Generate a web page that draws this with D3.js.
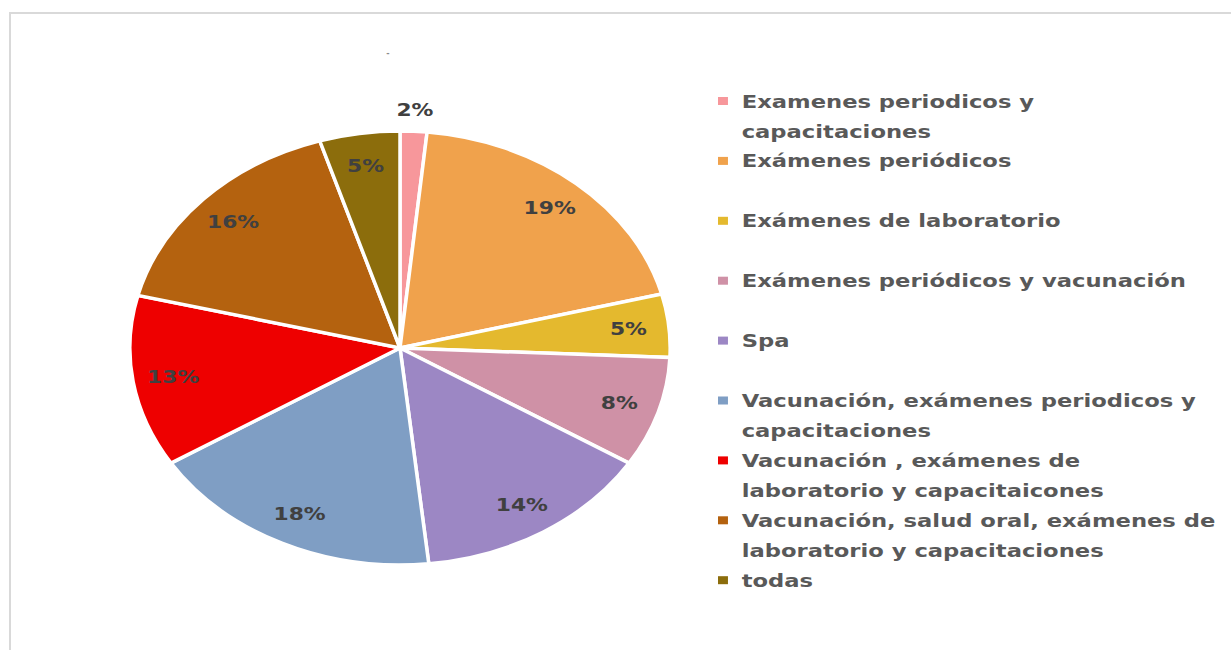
<!DOCTYPE html>
<html>
<head>
<meta charset="utf-8">
<script src="https://cdn.jsdelivr.net/npm/d3@7"></script>
<style>
  body { margin: 0; background: #fff; }
  text { font-family: "DejaVu Sans", Verdana, sans-serif; font-weight: bold; }
</style>
</head>
<body>
<div id="chart"></div>
<script>
// slice shares (labels are the rounded shares)
const categories = [
  "Examenes periodicos y capacitaciones",
  "Exámenes periódicos",
  "Exámenes de laboratorio",
  "Exámenes periódicos y vacunación",
  "Spa",
  "Vacunación, exámenes periodicos y capacitaciones",
  "Vacunación , exámenes de laboratorio y capacitaicones",
  "Vacunación, salud oral, exámenes de laboratorio y capacitaciones",
  "todas"
];
const legendLines = [
  ["Examenes periodicos y", "capacitaciones"],
  ["Exámenes periódicos"],
  ["Exámenes de laboratorio"],
  ["Exámenes periódicos y vacunación"],
  ["Spa"],
  ["Vacunación, exámenes periodicos y", "capacitaciones"],
  ["Vacunación , exámenes de", "laboratorio y capacitaicones"],
  ["Vacunación, salud oral, exámenes de", "laboratorio y capacitaciones"],
  ["todas"]
];
const values = [1.6, 19.4, 4.7, 8.2, 14.4, 17.8, 12.8, 16.3, 4.8];
const colors = ["#f7979b", "#f0a24c", "#e4b92e", "#cf91a6", "#9c87c4",
                "#7f9ec4", "#ee0000", "#b4620f", "#8c6d0c"];

var svgWidth = 1231;
var svgHeight = 650;

const svg = d3.select("#chart")
    .append("svg")
    .attr("width", svgWidth)
    .attr("height", svgHeight);

// chart area frame
svg.append("path")
    .attr("d", `M10,${svgHeight} L10,13 L${svgWidth},13`)
    .attr("fill", "none")
    .attr("stroke", "#d9d9d9")
    .attr("stroke-width", 2);

// empty title mark
svg.append("text")
    .attr("x", 388)
    .attr("y", 56)
    .attr("text-anchor", "middle")
    .attr("font-size", 8)
    .attr("fill", "#8c8c8c")
    .text("-");

// the pie is stretched horizontally in the picture
const stretch = 1.245;
const radius = 217;

const total = d3.sum(values);
const pie = d3.pie().sort(null).value(d => d);
const arcs = pie(values);
const arc = d3.arc().innerRadius(0).outerRadius(radius);
const labelArc = d3.arc().innerRadius(radius * 0.85).outerRadius(radius * 0.85);
const outArc = d3.arc().innerRadius(radius * 1.1).outerRadius(radius * 1.1);

const pieG = svg.append("g")
    .attr("transform", `translate(400, 348) scale(${stretch}, 1)`);

pieG.selectAll("path.slice")
    .data(arcs)
    .enter()
    .append("path")
    .attr("class", "slice")
    .attr("d", arc)
    .attr("fill", (d, i) => colors[i])
    .attr("stroke", "#fff")
    .attr("stroke-width", 3.5)
    .attr("vector-effect", "non-scaling-stroke");

pieG.selectAll("text.pct")
    .data(arcs)
    .enter()
    .append("text")
    .attr("class", "pct")
    .attr("transform", d => {
        const c = (d.value / total < 0.03 ? outArc : labelArc).centroid(d);
        return `translate(${c[0]}, ${c[1]})`;
    })
    .attr("text-anchor", "middle")
    .attr("dy", "0.36em")
    .attr("font-size", 17.5)
    .attr("fill", "#404040")
    .text(d => Math.round(d.value / total * 100) + "%");

// legend
const legendG = svg.append("g")
    .attr("transform", `translate(718, 0) scale(${stretch}, 1)`);

const item = legendG.selectAll("g.item")
    .data(legendLines)
    .enter()
    .append("g")
    .attr("class", "item")
    .attr("transform", (d, i) => `translate(0, ${101 + i * 59.9})`);

item.append("rect")
    .attr("x", 0)
    .attr("y", -4)
    .attr("width", 8)
    .attr("height", 8)
    .attr("fill", (d, i) => colors[i]);

item.selectAll("text")
    .data(d => d)
    .enter()
    .append("text")
    .attr("x", 19)
    .attr("y", (d, j) => j * 30)
    .attr("dy", "0.36em")
    .attr("font-size", 18.2)
    .attr("fill", "#595959")
    .text(d => d);
</script>
</body>
</html>
